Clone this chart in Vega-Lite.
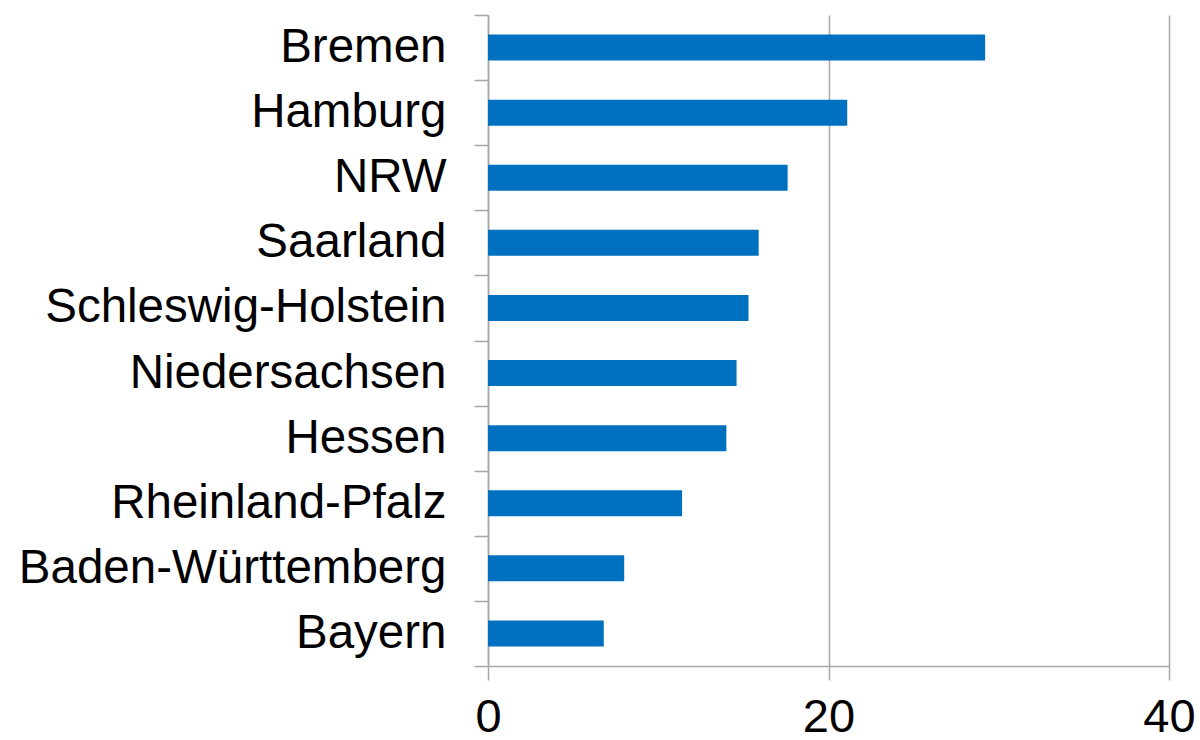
{
  "$schema": "https://vega.github.io/schema/vega-lite/v6.json",
  "autosize": "none",
  "padding": {"left": 488, "top": 15, "right": 31, "bottom": 74},
  "width": 681,
  "height": 651,
  "background": "white",
  "config": {
    "view": {"stroke": null},
    "font": "Liberation Sans"
  },
  "data": {
    "values": [
      {"land": "Bremen", "wert": 29.2},
      {"land": "Hamburg", "wert": 21.1},
      {"land": "NRW", "wert": 17.6},
      {"land": "Saarland", "wert": 15.9},
      {"land": "Schleswig-Holstein", "wert": 15.3},
      {"land": "Niedersachsen", "wert": 14.6},
      {"land": "Hessen", "wert": 14.0},
      {"land": "Rheinland-Pfalz", "wert": 11.4},
      {"land": "Baden-Württemberg", "wert": 8.0},
      {"land": "Bayern", "wert": 6.8}
    ]
  },
  "mark": {"type": "bar", "color": "#0070C0", "size": 26},
  "encoding": {
    "y": {
      "field": "land",
      "type": "nominal",
      "sort": null,
      "scale": {"paddingInner": 0, "paddingOuter": 0},
      "axis": {
        "title": null,
        "tickBand": "extent",
        "tickSize": 14,
        "tickColor": "#A6A6A6",
        "tickWidth": 1.5,
        "domainColor": "#A6A6A6",
        "domainWidth": 1.5,
        "labelFontSize": 47.5,
        "labelColor": "#000000",
        "labelPadding": 28,
        "labelFont": "Liberation Sans",
        "labelLimit": 600
      }
    },
    "x": {
      "field": "wert",
      "type": "quantitative",
      "scale": {"domain": [0, 40]},
      "axis": {
        "title": null,
        "values": [0, 20, 40],
        "grid": true,
        "gridColor": "#A6A6A6",
        "gridWidth": 1.5,
        "tickSize": 14,
        "tickColor": "#A6A6A6",
        "tickWidth": 1.5,
        "domainColor": "#A6A6A6",
        "domainWidth": 1.5,
        "labelFontSize": 47,
        "labelColor": "#000000",
        "labelPadding": 14,
        "labelFont": "Liberation Sans",
        "labelFlush": false
      }
    }
  }
}
